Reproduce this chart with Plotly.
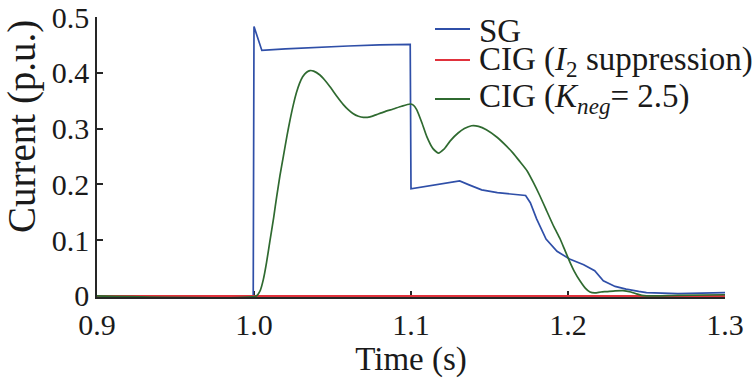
import plotly.graph_objects as go

# ---- data ----
sg_t = [0.9, 0.9995, 1.0, 1.005, 1.02, 1.04, 1.06, 1.08, 1.0995, 1.1,
        1.131, 1.137, 1.145, 1.155, 1.165, 1.173, 1.176, 1.180, 1.186, 1.193,
        1.201, 1.21, 1.217, 1.2225, 1.23, 1.237, 1.245, 1.25, 1.27, 1.3]
sg_v = [0, 0, 0.483, 0.440, 0.443, 0.446, 0.448, 0.450, 0.451, 0.192,
        0.206, 0.199, 0.190, 0.185, 0.182, 0.180, 0.167, 0.138, 0.102, 0.080,
        0.066, 0.056, 0.045, 0.027, 0.017, 0.012, 0.008, 0.006, 0.004, 0.006]

i2_t = [0.9, 1.3]
i2_v = [0, 0]

kn_t = [0.9, 1.0015, 1.004, 1.006, 1.008, 1.010, 1.0125, 1.0145, 1.0165, 1.0187,
        1.021, 1.023, 1.025, 1.027, 1.029, 1.031, 1.0335, 1.0357, 1.038, 1.042,
        1.045, 1.0484, 1.0525, 1.0569, 1.060, 1.063, 1.0665, 1.0697, 1.074, 1.078,
        1.083, 1.0887, 1.094, 1.0994, 1.1015, 1.1036, 1.107, 1.110, 1.114, 1.1174,
        1.121, 1.125, 1.13, 1.134, 1.1386, 1.143, 1.148, 1.155, 1.161, 1.165,
        1.169, 1.174, 1.178, 1.182, 1.186, 1.191, 1.195, 1.198, 1.201, 1.204,
        1.2076, 1.211, 1.214, 1.217, 1.221, 1.2246, 1.23, 1.235, 1.24, 1.2437,
        1.247, 1.25, 1.27, 1.3]
kn_v = [0, 0, 0.010, 0.030, 0.060, 0.096, 0.140, 0.179, 0.215, 0.250,
        0.287, 0.316, 0.342, 0.364, 0.381, 0.393, 0.401, 0.404, 0.403, 0.396,
        0.387, 0.375, 0.359, 0.343, 0.334, 0.327, 0.322, 0.320, 0.321, 0.325,
        0.330, 0.335, 0.340, 0.344, 0.342, 0.334, 0.310, 0.286, 0.264, 0.256,
        0.263, 0.278, 0.292, 0.300, 0.305, 0.304, 0.298, 0.284, 0.268, 0.256,
        0.242, 0.224, 0.203, 0.180, 0.155, 0.124, 0.102, 0.082, 0.062, 0.044,
        0.027, 0.014, 0.007, 0.0055, 0.007, 0.0077, 0.009, 0.0095, 0.007, 0.0036,
        0.001, 0, 0.001, 0.002]

x_ticks = [0.9, 1.0, 1.1, 1.2, 1.3]
x_labels = ["0.9", "1.0", "1.1", "1.2", "1.3"]
y_ticks = [0, 0.1, 0.2, 0.3, 0.4, 0.5]
y_labels = ["0", "0.1", "0.2", "0.3", "0.4", "0.5"]

names = ["SG", "CIG (<i>I</i><sub>2</sub> suppression)", "CIG (<i>K</i><sub><i>neg</i></sub>= 2.5)"]
colors = ["#2f4fa8", "#e0323c", "#2f6a30"]

FONT = "Liberation Serif"
AX = "#262626"
TXT = "#1a1a1a"

fig = go.Figure()
fig.add_trace(go.Scatter(x=sg_t, y=sg_v, mode="lines", name=names[0],
                         line=dict(color=colors[0], width=1.7)))
fig.add_trace(go.Scatter(x=i2_t, y=i2_v, mode="lines", name=names[1],
                         line=dict(color=colors[1], width=2)))
fig.add_trace(go.Scatter(x=kn_t, y=kn_v, mode="lines", name=names[2],
                         line=dict(color=colors[2], width=1.7, shape="spline", smoothing=0.5)))

W, H = 756, 381
ML, MR, MT, MB = 97, 31, 17, 84
PW, PH = W - ML - MR, H - MT - MB


def px_x(p):  # page pixel -> paper x
    return (p - ML) / PW


def px_y(p):  # page pixel -> paper y
    return 1 - (p - MT) / PH


# legend drawn as line samples + text entries
leg_rows = [29, 60, 99]
leg_text_dy = [2, 1, -1]
shapes = []
annotations = []
for name, col, row, dy in zip(names, colors, leg_rows, leg_text_dy):
    shapes.append(dict(type="line", xref="paper", yref="paper",
                       x0=px_x(435), x1=px_x(470), y0=px_y(row), y1=px_y(row),
                       line=dict(color=col, width=2)))
    annotations.append(dict(text=name, xref="paper", yref="paper",
                            x=px_x(477), y=px_y(row + dy), xanchor="left", yanchor="middle",
                            showarrow=False, font=dict(family=FONT, size=33, color=TXT)))

annotations.append(dict(text="Current (p.u.)", textangle=-90, xref="paper", yref="paper",
                        x=px_x(22), y=px_y(127), xanchor="center", yanchor="middle",
                        showarrow=False, font=dict(family=FONT, size=39, color=TXT)))

fig.update_layout(
    width=W, height=H,
    margin=dict(l=ML, r=MR, t=MT, b=MB, autoexpand=False),
    paper_bgcolor="white", plot_bgcolor="white",
    font=dict(family=FONT, size=30, color=TXT),
    showlegend=False,
    xaxis=dict(range=[0.9, 1.3], tickvals=x_ticks, ticktext=x_labels, automargin=False,
               showgrid=False, zeroline=False, showline=True, linecolor=AX, linewidth=1.5,
               ticks="inside", ticklen=6, tickwidth=1.5, tickcolor=AX,
               tickfont=dict(family=FONT, size=30, color=TXT),
               layer="below traces",
               title=dict(text="Time (s)", font=dict(family=FONT, size=33), standoff=2)),
    yaxis=dict(range=[-0.002, 0.5], tickvals=y_ticks, ticktext=y_labels, automargin=False,
               showgrid=False, zeroline=False, showline=True, linecolor=AX, linewidth=1.5,
               ticks="inside", ticklen=6, tickwidth=1.5, tickcolor=AX,
               tickfont=dict(family=FONT, size=30, color=TXT),
               layer="below traces"),
    shapes=shapes,
    annotations=annotations,
)

fig.write_html("out.html",
               config={"displayModeBar": False},
               post_script="document.body.style.margin='0';"
                           "document.documentElement.style.overflow='hidden';")
